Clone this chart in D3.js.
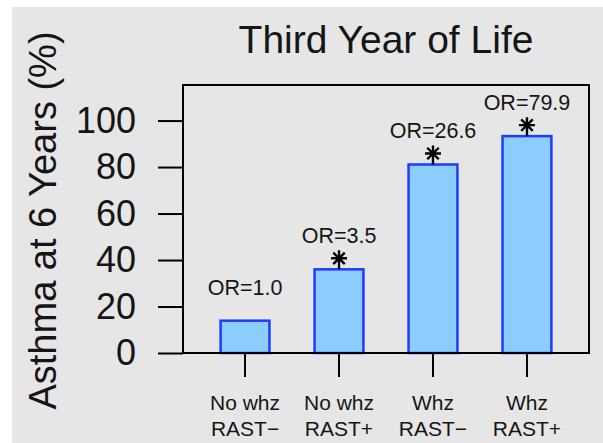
<!DOCTYPE html>
<html>
<head>
<meta charset="utf-8">
<script src="https://cdn.jsdelivr.net/npm/d3@7"></script>
<style>
  html, body { margin: 0; padding: 0; background: #ffffff; }
  svg { display: block; }
  text { font-family: "Liberation Sans", Arial, sans-serif; fill: #151515; }
</style>
</head>
<body>
<svg id="chart" width="603" height="443"></svg>
<script>
// Asthma at age 6 by wheeze / RAST status in the third year of life
const groupLine1 = ["No whz", "No whz", "Whz", "Whz"];
const groupLine2 = ["RAST\u2212", "RAST+", "RAST\u2212", "RAST+"];
const categories = ["nowhz-neg", "nowhz-pos", "whz-neg", "whz-pos"];
const asthmaPct = [13.9, 36.0, 81.1, 93.3];
const oddsRatios = ["OR=1.0", "OR=3.5", "OR=26.6", "OR=79.9"];
const significant = [false, true, true, true];
const yTicks = [0, 20, 40, 60, 80, 100];

const svg = d3.select("#chart");
const W = 603, H = 443;

// grey panel
svg.append("rect").attr("x", 12).attr("y", 7)
  .attr("width", W - 12).attr("height", H - 7).attr("fill", "#e6e6e6");

const plot = { left: 183, right: 589, top: 85, bottom: 353 };
const yTop = 115.3;

const y = d3.scaleLinear().domain([0, yTop]).range([plot.bottom, plot.top]);
const x = d3.scaleBand().domain(categories)
  .range([plot.left, plot.right])
  .paddingInner(0.48).paddingOuter(0.4);

// bars
svg.append("g").selectAll("rect").data(categories).join("rect")
  .attr("x", d => x(d))
  .attr("y", (d, i) => y(asthmaPct[i]))
  .attr("width", x.bandwidth())
  .attr("height", (d, i) => y(0) - y(asthmaPct[i]))
  .attr("fill", "#8ccdff")
  .attr("stroke", "#1e3cff")
  .attr("stroke-width", 2.5);

// significance asterisks
const star = svg.append("g").attr("stroke", "#000").attr("stroke-width", 2.4).attr("fill", "none");
categories.forEach((c, i) => {
  if (!significant[i]) return;
  const cx = x(c) + x.bandwidth() / 2;
  const top = y(asthmaPct[i]);
  const cy = top - 11;
  const r = 8, rd = r * 0.72;
  const p = d3.path();
  p.moveTo(cx, cy - r); p.lineTo(cx, top);
  p.moveTo(cx - r, cy); p.lineTo(cx + r, cy);
  p.moveTo(cx - rd, cy - rd); p.lineTo(cx + rd, cy + rd);
  p.moveTo(cx - rd, cy + rd); p.lineTo(cx + rd, cy - rd);
  star.append("path").attr("d", p.toString());
});

// odds ratio labels
svg.append("g").selectAll("text").data(categories).join("text")
  .attr("x", d => x(d) + x.bandwidth() / 2)
  .attr("y", (d, i) => y(asthmaPct[i]) - 26)
  .attr("text-anchor", "middle")
  .attr("font-size", 21.5)
  .text((d, i) => oddsRatios[i]);

// frame
svg.append("rect")
  .attr("x", plot.left).attr("y", plot.top)
  .attr("width", plot.right - plot.left).attr("height", plot.bottom - plot.top)
  .attr("fill", "none").attr("stroke", "#000").attr("stroke-width", 2);

// y axis
const yAxis = svg.append("g")
  .attr("transform", `translate(${plot.left},0)`)
  .call(d3.axisLeft(y).tickValues(yTicks).tickSize(25).tickSizeOuter(0).tickPadding(22));
yAxis.select(".domain").remove();
yAxis.selectAll(".tick line").attr("stroke", "#000").attr("stroke-width", 2);
yAxis.selectAll(".tick text")
  .attr("font-size", 36).attr("font-family", "Liberation Sans, Arial, sans-serif")
  .attr("fill", "#151515");

// x axis
const xAxis = svg.append("g")
  .attr("transform", `translate(0,${plot.bottom})`)
  .call(d3.axisBottom(x).tickSize(24).tickSizeOuter(0).tickFormat(""));
xAxis.select(".domain").remove();
xAxis.selectAll(".tick line").attr("stroke", "#000").attr("stroke-width", 2);

const catLabels = svg.append("g").attr("font-size", 21).attr("text-anchor", "middle");
categories.forEach((c, i) => {
  const cx = x(c) + x.bandwidth() / 2;
  catLabels.append("text").attr("x", cx).attr("y", 410).text(groupLine1[i]);
  catLabels.append("text").attr("x", cx).attr("y", 436).text(groupLine2[i]);
});

// titles
svg.append("text")
  .attr("x", 386).attr("y", 52.5)
  .attr("text-anchor", "middle").attr("font-size", 39)
  .text("Third Year of Life");

svg.append("text")
  .attr("transform", "translate(56,220.5) rotate(-90)")
  .attr("text-anchor", "middle").attr("font-size", 38)
  .text("Asthma at 6 Years (%)");
</script>
</body>
</html>
